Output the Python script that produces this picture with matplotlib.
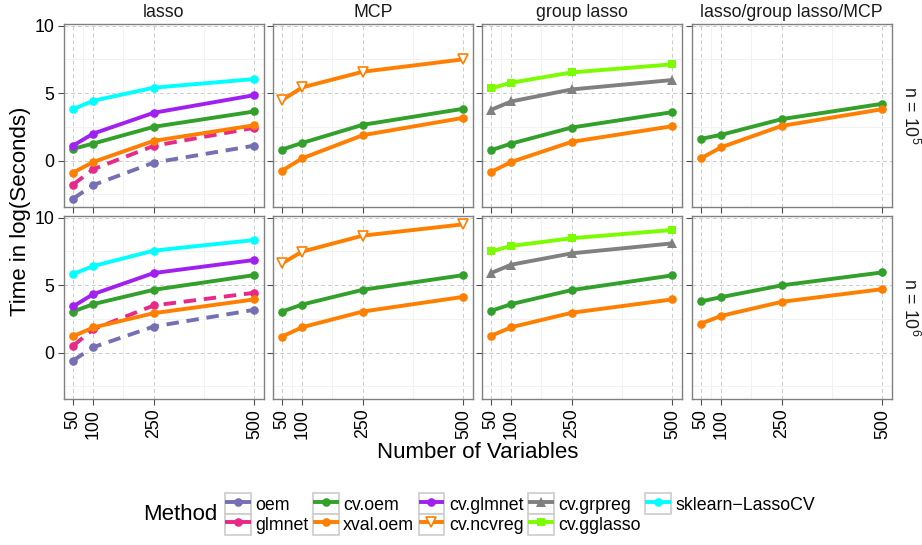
import matplotlib
matplotlib.use("Agg")
import matplotlib.pyplot as plt
from matplotlib.lines import Line2D
from matplotlib.patches import Rectangle
from matplotlib.legend_handler import HandlerLine2D

plt.rcParams['font.family'] = ['Liberation Sans', 'DejaVu Sans']
plt.rcParams['mathtext.fontset'] = 'custom'
plt.rcParams['mathtext.rm'] = 'Liberation Sans'
plt.rcParams['mathtext.it'] = 'Liberation Sans:italic'

W, H = 922, 545

n_vars = [50, 100, 250, 500]
x_ticks = [50, 100, 250, 500]
x_minor = [75, 175, 375]
y_ticks = [0, 5, 10]
y_minor = [-2.5, 2.5, 7.5]

penalties = ["lasso", "MCP", "group lasso", "lasso/group lasso/MCP"]
sample_sizes = [r"n = 10$^5$", r"n = 10$^6$"]

# timings, log(seconds), n = 1e5
lasso_n5 = {
    "oem": [-2.82, -1.81, -0.15, 1.11],
    "glmnet": [-1.78, -0.64, 1.09, 2.43],
    "cv.oem": [0.87, 1.26, 2.50, 3.64],
    "xval.oem": [-0.89, -0.10, 1.46, 2.62],
    "cv.glmnet": [1.11, 2.00, 3.54, 4.85],
    "sklearn\u2212LassoCV": [3.81, 4.43, 5.40, 6.04],
}
mcp_n5 = {
    "cv.oem": [0.82, 1.31, 2.65, 3.84],
    "xval.oem": [-0.74, 0.17, 1.88, 3.17],
    "cv.ncvreg": [4.48, 5.42, 6.58, 7.50],
}
grp_n5 = {
    "cv.oem": [0.77, 1.26, 2.45, 3.59],
    "xval.oem": [-0.84, -0.10, 1.39, 2.55],
    "cv.grpreg": [3.76, 4.38, 5.27, 5.97],
    "cv.gglasso": [5.35, 5.77, 6.53, 7.13],
}
all_n5 = {
    "cv.oem": [1.61, 1.91, 3.07, 4.21],
    "xval.oem": [0.17, 0.99, 2.57, 3.81],
}

# timings, log(seconds), n = 1e6
lasso_n6 = {
    "oem": [-0.59, 0.40, 1.93, 3.17],
    "glmnet": [0.50, 1.73, 3.49, 4.43],
    "cv.oem": [3.04, 3.59, 4.65, 5.74],
    "xval.oem": [1.21, 1.86, 2.92, 3.94],
    "cv.glmnet": [3.42, 4.33, 5.89, 6.86],
    "sklearn\u2212LassoCV": [5.82, 6.41, 7.55, 8.34],
}
mcp_n6 = {
    "cv.oem": [3.04, 3.56, 4.65, 5.74],
    "xval.oem": [1.19, 1.88, 3.04, 4.13],
    "cv.ncvreg": [6.61, 7.48, 8.66, 9.50],
}
grp_n6 = {
    "cv.oem": [3.09, 3.59, 4.63, 5.72],
    "xval.oem": [1.24, 1.88, 2.95, 3.94],
    "cv.grpreg": [5.89, 6.51, 7.35, 8.09],
    "cv.gglasso": [7.50, 7.90, 8.47, 9.08],
}
all_n6 = {
    "cv.oem": [3.79, 4.11, 4.98, 5.94],
    "xval.oem": [2.15, 2.72, 3.76, 4.70],
}

panels = [[lasso_n5, mcp_n5, grp_n5, all_n5],
          [lasso_n6, mcp_n6, grp_n6, all_n6]]

methods = ["oem", "glmnet", "cv.oem", "xval.oem", "cv.glmnet",
           "cv.ncvreg", "cv.grpreg", "cv.gglasso", "sklearn\u2212LassoCV"]

styles = {
    "oem": dict(color="#7570B3", marker="o", ls="dashed"),
    "glmnet": dict(color="#E7298A", marker="o", ls="dashed"),
    "cv.oem": dict(color="#33A02C", marker="o", ls="solid"),
    "xval.oem": dict(color="#FF7F00", marker="o", ls="solid"),
    "cv.glmnet": dict(color="#A020F0", marker="o", ls="solid"),
    "cv.ncvreg": dict(color="#FF7F00", marker="v", ls="solid", hollow=True),
    "cv.grpreg": dict(color="#808080", marker="^", ls="solid"),
    "cv.gglasso": dict(color="#7CFC00", marker="s", ls="solid"),
    "sklearn\u2212LassoCV": dict(color="#00FFFF", marker="o", ls="solid"),
}
msize = {"o": 6.2, "v": 7.8, "^": 7.0, "s": 5.8}
LW = 2.8


def line_kw(name):
    st = styles[name]
    kw = dict(color=st["color"], lw=LW, marker=st["marker"],
              markersize=msize[st["marker"]], solid_capstyle="butt")
    if st.get("hollow"):
        kw.update(markerfacecolor="white", markeredgecolor=st["color"], markeredgewidth=1.2)
    else:
        kw.update(markerfacecolor=st["color"], markeredgewidth=0)
    if st["ls"] == "dashed":
        kw.update(ls=(0, (3.2, 2.0)))
    return kw


# shared limits with ggplot-style 5% expansion
all_vals = [v for row in panels for p in row for s in p.values() for v in s]
ymin, ymax = min(all_vals), max(all_vals)
ypad = 0.05 * (ymax - ymin)
xpad = 0.05 * (max(n_vars) - min(n_vars))

fig = plt.figure(figsize=(W / 100, H / 100), dpi=100)

lefts = [64, 273, 482, 692]
tops = [24, 216]
pw, ph = 199.5, 183

for r in range(2):
    for c in range(4):
        ax = fig.add_axes([lefts[c] / W, 1 - (tops[r] + ph) / H, pw / W, ph / H])
        data = panels[r][c]
        for m in methods:
            if m in data:
                ax.plot(n_vars, data[m], **line_kw(m))
        ax.set_xlim(min(n_vars) - xpad, max(n_vars) + xpad)
        ax.set_ylim(ymin - ypad, ymax + ypad)
        ax.set_xticks(x_ticks)
        ax.set_xticks(x_minor, minor=True)
        ax.set_yticks(y_ticks)
        ax.set_yticks(y_minor, minor=True)
        ax.set_axisbelow(True)
        ax.grid(which="major", ls=(0, (4, 3)), color="#cccccc", lw=0.7)
        ax.grid(which="minor", ls="solid", color="#f2f2f2", lw=0.7)
        ax.tick_params(which="minor", length=0)
        ax.tick_params(which="major", length=4, width=0.8, color="#4d4d4d",
                       labelsize=12.8, labelcolor="black", pad=3)
        for sp in ax.spines.values():
            sp.set_color("#808080")
            sp.set_linewidth(1.0)
        if r == 1:
            ax.set_xticklabels([str(t) for t in x_ticks], rotation=90, va="top")
        else:
            ax.set_xticklabels([])
        if c == 0:
            ax.set_yticklabels([str(t) for t in y_ticks])
        else:
            ax.set_yticklabels([])
        if r == 0:
            ax.set_title(penalties[c], fontsize=12.8, color="#1a1a1a", pad=5)
        if c == 3:
            fig.text(910 / W, 1 - (tops[r] + ph / 2) / H, sample_sizes[r],
                     rotation=-90, ha="center", va="center", fontsize=12.8, color="#1a1a1a")

fig.text(21 / W, 1 - 211 / H, "Time in log(Seconds)", rotation=90,
         ha="center", va="center", fontsize=16)
fig.text(478 / W, 1 - 453 / H, "Number of Variables", ha="center", va="center", fontsize=16)


class BoxedKey(HandlerLine2D):
    def create_artists(self, legend, orig_handle, xdescent, ydescent,
                       width, height, fontsize, trans):
        arts = super().create_artists(legend, orig_handle, xdescent, ydescent,
                                      width, height, fontsize, trans)
        box = Rectangle((-xdescent, -ydescent), width, height, transform=trans,
                        facecolor="white", edgecolor="#cccccc", lw=1.2)
        return [box] + list(arts)


handles = [Line2D([], [], **{**line_kw(m), "ls": "solid"}) for m in methods]
leg = fig.legend(handles, methods, loc="center left",
                 bbox_to_anchor=(225 / W, 1 - 514 / H), ncol=5, frameon=False,
                 fontsize=12.8, handlelength=1.45, handleheight=1.4,
                 handletextpad=0.25, columnspacing=0.25, labelspacing=0.0,
                 borderpad=0, borderaxespad=0, numpoints=1,
                 handler_map={Line2D: BoxedKey(numpoints=1)})
fig.text(143 / W, 1 - 514 / H, "Method", ha="left", va="center", fontsize=16)

fig.savefig("out.png", dpi=100)
